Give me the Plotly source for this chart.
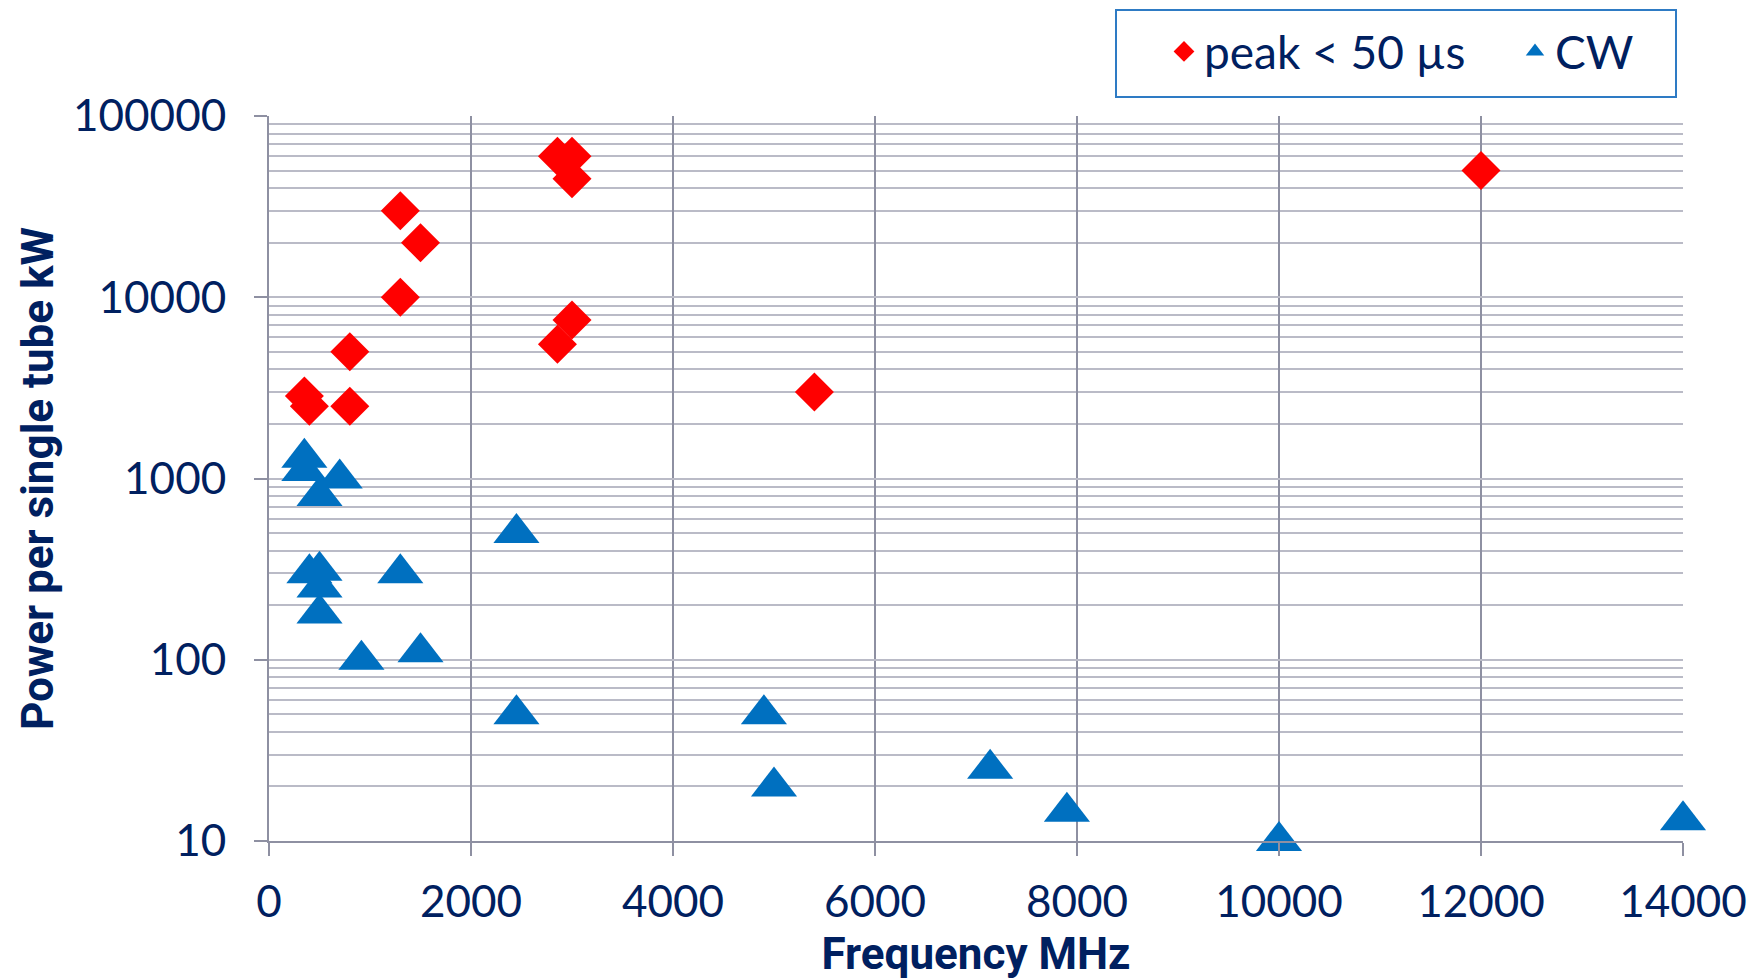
import plotly.graph_objects as go

# ---- data ----
peak_freq = [350, 400, 800, 800, 1300, 1300, 1500, 2856, 2856, 3000, 3000, 3000, 5400, 12000]
peak_pow = [2850, 2500, 5000, 2500, 30000, 10000, 20000, 60000, 5500, 60000, 45000, 7500, 3000, 50000]

cw_freq = [350, 350, 500, 700, 400, 500, 500, 500, 1300, 915, 1500, 2450, 2450,
           4900, 5000, 7140, 7900, 10000, 14000]
cw_pow = [1300, 1100, 800, 1000, 300, 310, 250, 180, 300, 100, 110, 500, 50,
          50, 20, 25, 14.5, 10, 13]

x_ticks = [0, 2000, 4000, 6000, 8000, 10000, 12000, 14000]
y_ticks = [10, 100, 1000, 10000, 100000]

series_names = ["peak < 50 µs", "CW"]

NAVY = "#002060"
GRID = "#BABBC7"
GRID_DARK = "#8E90A2"

fig = go.Figure()
fig.add_trace(go.Scatter(
    x=peak_freq, y=peak_pow, mode="markers", name=series_names[0],
    marker=dict(symbol="diamond", size=30, color="#FF0000", line=dict(width=0)),
    cliponaxis=False,
))
fig.add_trace(go.Scatter(
    x=cw_freq, y=cw_pow, mode="markers", name=series_names[1],
    marker=dict(symbol="triangle-up", size=40, color="#0070C0", line=dict(width=0)),
    cliponaxis=False,
))

# page offset of the plotly div (body margin)
OFF = 8
PL, PT = 269, 116          # plot area left/top in page px
PW, PH = 1414, 725         # plot area size
W, H = 1752, 972
L = PL - OFF
T = PT - OFF
R = W - L - PW
B = H - T - PH


def px(xp):
    return (xp - PL) / PW


def py(yp):
    return (PT + PH - yp) / PH


fig.update_layout(
    width=W, height=H,
    margin=dict(l=L, r=R, t=T, b=B, autoexpand=False),
    paper_bgcolor="white", plot_bgcolor="white",
    showlegend=True,
    legend=dict(
        orientation="h",
        x=px(1164), y=py(51.5),
        xanchor="left", yanchor="middle",
        font=dict(family="Lato", size=46, color=NAVY),
        bgcolor="rgba(0,0,0,0)", borderwidth=0,
        itemsizing="trace",
        entrywidth=306,
    ),
    shapes=[dict(
        type="rect", xref="paper", yref="paper",
        x0=px(1116), x1=px(1676),
        y0=py(97), y1=py(10),
        line=dict(color="#2E7BC4", width=2), fillcolor="rgba(0,0,0,0)",
        layer="above",
    )],
    xaxis=dict(
        range=[0, 14000], tickvals=x_ticks, ticktext=[str(v) for v in x_ticks],
        showgrid=True, gridcolor=GRID_DARK, gridwidth=1.5,
        showline=True, linecolor=GRID_DARK, linewidth=2,
        ticks="outside", ticklen=13, tickwidth=2, tickcolor=GRID_DARK,
        tickfont=dict(family="Lato", size=44, color=NAVY),
        ticklabelstandoff=8,
        zeroline=False,
        title=dict(text="Frequency MHz", standoff=14,
                   font=dict(family="Liberation Sans Narrow, Roboto", size=44, color=NAVY, weight="bold")),
    ),
    yaxis=dict(
        type="log", range=[1, 5], tickvals=y_ticks, ticktext=[str(v) for v in y_ticks],
        showgrid=True, gridcolor=GRID, gridwidth=1.5,
        minor=dict(showgrid=True, gridcolor=GRID, gridwidth=1.5, dtick="D1", ticks=""),
        showline=True, linecolor=GRID_DARK, linewidth=2,
        ticks="outside", ticklen=13, tickwidth=2, tickcolor=GRID_DARK,
        tickfont=dict(family="Lato", size=44, color=NAVY),
        ticklabelstandoff=19,
        zeroline=False,
        title=dict(text="Power per single tube kW", standoff=6,
                   font=dict(family="Liberation Sans Narrow, Roboto", size=44, color=NAVY, weight="bold")),
    ),
)

fig.write_html("out.html")
